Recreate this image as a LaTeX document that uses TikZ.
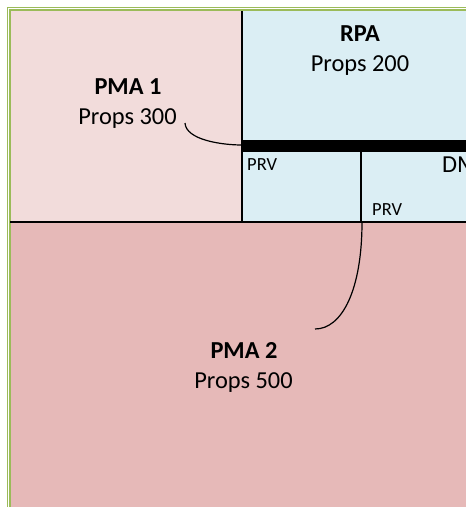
\documentclass[tikz,border=0pt]{standalone}
\usepackage{fontspec}
\setmainfont{Carlito}
\definecolor{pinkA}{HTML}{F2DCDB}
\definecolor{pinkB}{HTML}{E6B9B8}
\definecolor{blueA}{HTML}{DBEEF4}
\definecolor{greenB}{HTML}{9BBB59}
\begin{document}
\begin{tikzpicture}[x=1pt,y=-1pt,
  big/.style={inner sep=0pt, anchor=base, font=\fontsize{24.4}{28}\selectfont},
  bigb/.style={big, font=\fontsize{24.4}{28}\selectfont\bfseries},
  small/.style={inner sep=0pt, anchor=base west, font=\fontsize{18.5}{21}\selectfont},
  sep/.style={line width=1.8pt, black},
  lead/.style={line width=1.2pt, black}]
\useasboundingbox (0,0) rectangle (466,507);
\clip (0,0) rectangle (466,507);
% areas
\fill[pinkA] (11,11) rectangle (242,222);
\fill[blueA] (242,11) rectangle (466,222);
\fill[pinkB] (11,222) rectangle (466,507);
% border
\draw[greenB, line width=1pt] (7.5,507) -- (7.5,7.5) -- (466,7.5);
\draw[greenB, line width=2.4pt] (10,507) -- (10,10) -- (466,10);
% separators
\draw[sep] (10,222) -- (466,222);
\draw[sep] (242,11) -- (242,222);
\fill[black] (242,140) rectangle (466,152);
\draw[line width=2.5pt] (361,152) -- (361,222);
% texts
\node[bigb] (pma1) at (128,94) {PMA 1};
\node[big] (p300) at (127.5,124) {Props 300};
\node[bigb] (rpa) at (360,41) {RPA};
\node[big] (p200) at (360,71) {Props 200};
\node[bigb] (pma2) at (244,358) {PMA 2};
\node[big] (p500) at (243.5,388) {Props 500};
\node[small] (prv1) at (247,170) {PRV};
\node[small] (prv2) at (372,215) {PRV};
\node[inner sep=0pt, anchor=base west, font=\fontsize{24.4}{28}\selectfont] (dma) at (442,172) {DMA};
% leaders
\coordinate (c1s) at (185,123);
\coordinate (c1e) at (242,145);
\coordinate (c2s) at (362,222);
\coordinate (c2e) at (315,329);
\draw[lead] (c1s) .. controls (186,140) and (222,145) .. (c1e);
\draw[lead] (c2s) .. controls (362,290) and (342,329) .. (c2e);
\end{tikzpicture}
\end{document}
